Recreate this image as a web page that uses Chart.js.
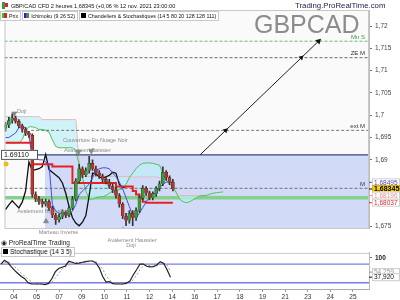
<!DOCTYPE html>
<html>
<head>
<meta charset="utf-8">
<script src="https://cdn.jsdelivr.net/npm/chart.js@4.4.1/dist/chart.umd.min.js"></script>
<style>
body{margin:0;width:400px;height:300px;overflow:hidden;background:#fff;position:relative;font-family:"Liberation Sans",Arial,sans-serif}
canvas{position:absolute;left:0}
#main{top:0}
#stoch{top:246px}
.t{position:absolute;white-space:nowrap;color:#111}
.box{display:inline-block;border:1px solid #c8c8c8;background:#fff;height:8px;line-height:8px;padding:0 2px 0 1px;margin-right:1px;vertical-align:top}
.ic{display:inline-block;width:5px;height:5px;margin-right:2px;vertical-align:0}
</style>
</head>
<body>
<canvas id="main" width="400" height="300"></canvas>
<canvas id="stoch" width="400" height="54"></canvas>

<div class="t" style="left:2px;top:2px;font-size:5.6px"><span style="display:inline-block;width:3px;height:7px;background:#3a9a3a;vertical-align:-1px"></span><span style="display:inline-block;width:3px;height:4px;background:#d23;margin-right:3px;vertical-align:1px"></span>GBP/CAD CFD 2 heures 1,68345 (+0,06 % 12 nov. 2021 23:00:00</div>
<div class="t" style="left:0;top:11px;font-size:5.3px">
  <span class="box"><span class="ic" style="background:linear-gradient(90deg,#2c2 50%,#d22 50%)"></span>Prix</span><span class="box"><span class="ic" style="background:linear-gradient(90deg,#22c 33%,#c2c 33%,#c2c 66%,#2a2 66%)"></span>Ichimoku (9 26 52)</span><span class="box"><span class="ic" style="background:#000"></span>Chandeliers &amp; Stochastiques (14 5 80 20 128 128 111)</span>
</div>
<div class="t" style="left:295px;top:1px;font-size:7.8px;color:#1c1c48">Trading.ProRealTime.com</div>
<div class="t" style="left:254px;top:10px;font-size:25px;color:#8c8c8c">GBPCAD</div>
<div class="t" style="left:1px;top:239px;font-size:6.5px;color:#222">&#9673; ProRealTime Trading</div>
<div class="t" style="left:1px;top:247px;font-size:6.5px"><span class="box"><span class="ic" style="background:#000"></span>Stochastique (14 3 5)</span></div>

<script>
// x axis: one unit = 1/10 of a label step, label k sits at k*10
const dayLabels = ['04','05','07','09','10','11','12','14','16','17','18','19','21','23','24','25'];
const xMin = -6.19, xMax = 157.1;
const barStart = -5.75, barStep = 1.5;

// 2h candles
const opens  = [1.6970,1.6978,1.6988,1.6994,1.6986,1.6976,1.6968,1.6960,1.6955,1.6822,1.6812,1.6806,1.6800,1.6806,1.6792,1.6776,1.6765,1.6772,1.6782,1.6776,1.6792,1.6812,1.6852,1.6880,1.6866,1.6876,1.6892,1.6880,1.6870,1.6864,1.6856,1.6850,1.6840,1.6832,1.6820,1.6800,1.6774,1.6764,1.6780,1.6770,1.6786,1.6815,1.6836,1.6826,1.6815,1.6824,1.6836,1.6846,1.6872,1.6860,1.6850];
const highs  = [1.6984,1.6995,1.7003,1.6998,1.6990,1.6980,1.6972,1.6964,1.6958,1.6828,1.6818,1.6812,1.6812,1.6810,1.6796,1.6780,1.6778,1.6788,1.6786,1.6796,1.6818,1.6858,1.6890,1.6884,1.6882,1.6908,1.6900,1.6886,1.6876,1.6868,1.6862,1.6856,1.6846,1.6838,1.6824,1.6804,1.6780,1.6786,1.6786,1.6792,1.6820,1.6842,1.6840,1.6830,1.6828,1.6840,1.6852,1.6884,1.6876,1.6864,1.6856];
const lows   = [1.6964,1.6972,1.6982,1.6982,1.6972,1.6962,1.6954,1.6950,1.6816,1.6806,1.6800,1.6794,1.6796,1.6786,1.6770,1.6755,1.6760,1.6768,1.6770,1.6772,1.6788,1.6808,1.6848,1.6860,1.6862,1.6870,1.6876,1.6864,1.6858,1.6850,1.6846,1.6836,1.6826,1.6814,1.6794,1.6768,1.6752,1.6758,1.6752,1.6764,1.6782,1.6810,1.6820,1.6810,1.6810,1.6818,1.6830,1.6842,1.6854,1.6844,1.6830];
const closes = [1.6978,1.6988,1.6994,1.6986,1.6976,1.6968,1.6960,1.6955,1.6822,1.6812,1.6806,1.6800,1.6806,1.6792,1.6776,1.6765,1.6772,1.6782,1.6776,1.6792,1.6812,1.6852,1.6880,1.6866,1.6876,1.6892,1.6880,1.6870,1.6864,1.6856,1.6850,1.6840,1.6832,1.6820,1.6800,1.6774,1.6764,1.6780,1.6770,1.6786,1.6815,1.6836,1.6826,1.6815,1.6824,1.6836,1.6846,1.6872,1.6860,1.6850,1.68345];

// ichimoku
const tenkan = [1.6950,1.6950,1.6955,1.6960,1.6972,1.6975,1.6972,1.6955,1.6905,1.6905,1.6900,1.6900,1.6895,1.6890,1.6800,1.6785,1.6780,1.6778,1.6776,1.6776,1.6785,1.6800,1.6822,1.6830,1.6838,1.6845,1.6860,1.6875,1.6880,1.6882,1.6882,1.6880,1.6870,1.6862,1.6850,1.6835,1.6815,1.6795,1.6775,1.6770,1.6780,1.6793,1.6805,1.6816,1.6822,1.6827,1.6838,1.6845,1.6850,1.6850,1.68495];
const kijun  = [1.6938,1.6938,1.6938,1.6938,1.6938,1.6938,1.6938,1.6938,1.6890,1.6890,1.6890,1.6890,1.6890,1.6890,1.6885,1.6885,1.6885,1.6885,1.6885,1.6885,1.6848,1.6848,1.6848,1.6848,1.6848,1.6848,1.6848,1.6848,1.6848,1.6848,1.6848,1.6848,1.6848,1.6840,1.6840,1.6840,1.6840,1.6840,1.6830,1.6822,1.6814,1.6806,1.68037,1.68037,1.68037,1.68037,1.68037,1.68037,1.68037,1.68037,1.68037];
const senkouA = [1.6938,1.6938,1.6938,1.6938,1.6938,1.6945,1.6965,1.6974,1.6974,1.6972,1.6968,1.6968,1.6966,1.6962,1.6945,1.6930,1.6927,1.6927,1.6927,1.6927,1.6927,1.6920,1.6890,1.6860,1.6830,1.6812,1.6812,1.6815,1.6817,1.6817,1.6820,1.6825,1.6830,1.6833,1.6833,1.6835,1.6845,1.6860,1.6870,1.6880,1.6888,1.6892,1.6893,1.6893,1.6892,1.6890,1.6888,1.6870,1.6855,1.6845,1.6838,1.6826,1.6812,1.6806,1.6804,1.6806,1.6810,1.6815,1.6818,1.6820,1.6820,1.6823,1.6825,1.6826,1.6827,1.6828];
const senkouB = [1.6997,1.6997,1.6997,1.6997,1.6997,1.6997,1.6997,1.6997,1.6997,1.6997,1.6997,1.6990,1.6990,1.6990,1.6990,1.6990,1.6990,1.6990,1.6990,1.6990,1.6990,1.6990,1.6890,1.6862,1.6862,1.6862,1.6862,1.6862,1.6862,1.6862,1.6862,1.6862,1.6862,1.6862,1.6862,1.6862,1.6862,1.6862,1.6862,1.6862,1.6862,1.6862,1.6862,1.6862,1.6862,1.6862,1.6860,1.6860,1.6860,1.6852,1.6842,1.6828,1.68196,1.68196,1.68196,1.68196,1.68196,1.68196,1.68196,1.68196,1.68196,1.68196,1.68196,1.68196,1.68196,1.68196];
const chikou = [1.6788,1.6799,1.6808,1.6800,1.6792,1.6805,1.6830,1.6895,1.6876,1.6878,1.6880,1.6885,1.6912,1.6878,1.6872,1.6866,1.6860,1.6848,1.6825,1.6795,1.6770,1.6758,1.6752,1.6760,1.6775,1.6820,1.6870,1.6868,1.6862,1.6858,1.6862,1.6865,1.6872,1.6870,1.6845,1.6838,1.6840];

// stochastic %K / %D
const stochK = [80,92,85,72,60,50,40,33,20,16,16,16,16,14,18,33,55,66,70,74,89,86,82,83,86,88,90,90,84,68,40,22,24,17,16,16,16,19,25,45,62,80,80,73,71,72,78,88,82,62,37.92];
const stochD = [78,85,88,82,72,62,50,41,32,24,18,16,16,15,16,22,35,50,64,70,78,83,86,84,84,86,88,89,88,80,64,43,29,21,19,16,16,17,20,30,44,62,74,78,75,72,74,80,84,77,54.259];
const stochLevels = [80, 20];

// horizontal levels (price)
const levelMnS = 1.7166, levelZeM = 1.7129, levelExtM = 1.6966, levelM = 1.6836;
const zoneTop = 1.6911, zoneStart = 11.9, extStart = 5.75;
const greenLevel = 1.6815;
// projected trend line (time, price)
const trendX = [81.4, 92.9, 126.8, 134.5];
const trendY = [1.6911, 1.6966, 1.7129, 1.7166];
// candle pattern markers
const markX = [-1.8, 27.0, 32.7, 12.4, 16.8, 46.9, 49.8];
const markY = [1.7004, 1.6918, 1.6920, 1.6762, 1.6738, 1.6742, 1.6740];
const markUp = [false, false, false, true, true, true, true];
const patternText = ['Doji', 'Couverture En Nuage Noir', 'Avalement Baissier', 'Avalement Haussier', 'Marteau Inversé', 'Avalement Haussier', 'Doji'];
const patternX = [1.5, 34.5, 31.0, 10.5, 18.0, 51.0, 50.5];
const patternY = [1.7008, 1.6943, 1.6921, 1.6783, 1.6736, 1.6719, 1.6707];

const mainTicks = [1.675, 1.69, 1.695, 1.7, 1.705, 1.71, 1.715, 1.72];
const priceTags = [
  {value: 1.68495, color: '#4a4ad8', bg: '#fff'},
  {value: 1.68345, color: '#000', bg: '#f5cc1a'},
  {value: 1.68196, color: '#f08c8c', bg: '#fff'},
  {value: 1.68037, color: '#e02828', bg: '#fff'}
];
const levelNames = [
  {text: 'Mn S', value: levelMnS, color: '#3a9a3a'},
  {text: 'ZE M', value: levelZeM, color: '#333'},
  {text: 'ext M', value: levelExtM, color: '#333'},
  {text: 'M', value: levelM, color: '#333'}
];

const barX = j => barStart + j * barStep;
const series = arr => arr.map((v, j) => ({x: barX(j), y: v}));
const hline = (y, from) => [{x: from, y: y}, {x: xMax, y: y}];
const comma = (v, d) => v.toFixed(d).replace('.', ',');

function lineDs(data, color, width, order, extra) {
  return Object.assign({type: 'line', data: data, borderColor: color, borderWidth: width,
    pointRadius: 0, fill: false, tension: 0, order: order}, extra || {});
}

const mainDecor = {
  id: 'mainDecor',
  beforeDraw(chart) {
    const {ctx, chartArea: a} = chart;
    ctx.save();
    ctx.fillStyle = '#fafafa';
    ctx.fillRect(a.left, a.top, a.right - a.left, a.bottom - a.top);
    ctx.restore();
  },
  afterDraw(chart) {
    const {ctx, chartArea: a} = chart;
    const ys = chart.scales.y, xs = chart.scales.x;
    ctx.save();
    ctx.strokeStyle = '#c8c8c8';
    ctx.lineWidth = 1;
    ctx.strokeRect(a.left + 0.5, a.top + 0.5, a.right - a.left - 1, a.bottom - a.top);

    ctx.font = '6px "Liberation Sans", Arial';
    ctx.textAlign = 'right';
    ctx.textBaseline = 'bottom';
    levelNames.forEach(l => {
      ctx.fillStyle = l.color;
      ctx.fillText(l.text, a.right - 4, ys.getPixelForValue(l.value) - 1);
    });

    // price tags on right axis
    priceTags.forEach((p, i) => {
      const y = ys.getPixelForValue(p.value);
      ctx.fillStyle = p.bg;
      ctx.fillRect(a.right + 3, y - 4, 28, 8);
      ctx.strokeStyle = i === 1 ? '#d8b000' : '#d0d0d0';
      ctx.strokeRect(a.right + 3.5, y - 3.5, 27, 7);
      ctx.fillStyle = p.color;
      ctx.font = (i === 1 ? 'bold 7px' : '6.5px') + ' "Liberation Sans", Arial';
      ctx.textAlign = 'left';
      ctx.textBaseline = 'middle';
      ctx.fillText(comma(p.value, 5), a.right + 5, y + 0.5);
      ctx.strokeStyle = p.color;
      ctx.beginPath(); ctx.moveTo(a.right, y); ctx.lineTo(a.right + 3, y); ctx.stroke();
    });

    // level tag on the left
    const yz = ys.getPixelForValue(zoneTop);
    ctx.fillStyle = '#fff';
    ctx.fillRect(1, yz - 5, 37, 10);
    ctx.strokeStyle = '#555';
    ctx.strokeRect(1.5, yz - 4.5, 36, 9);
    ctx.fillStyle = '#111';
    ctx.font = '7px "Liberation Sans", Arial';
    ctx.textAlign = 'left';
    ctx.textBaseline = 'middle';
    ctx.fillText(zoneTop.toFixed(5), 4, yz + 0.5);
    ctx.fillStyle = '#e6c020';
    ctx.beginPath(); ctx.arc(6, yz + 9, 2.5, 0, Math.PI * 2); ctx.fill();

    // pattern names
    ctx.font = '5.5px "Liberation Sans", Arial';
    ctx.fillStyle = '#8a8a8a';
    ctx.textAlign = 'center';
    patternText.forEach((t, i) => {
      ctx.fillText(t, xs.getPixelForValue(patternX[i]), ys.getPixelForValue(patternY[i]));
    });
    ctx.restore();
  }
};

const candleColors = closes.map((c, j) => c >= opens[j] ? '#3c9c3c' : '#c42f2a');

new Chart(document.getElementById('main'), {
  type: 'line',
  data: {
    datasets: [
      lineDs(trendX.map((x, i) => ({x: x, y: trendY[i]})), '#222', 1, 1, {
        pointRadius: [0, 3, 3, 3.5], pointStyle: 'triangle', rotation: 46,
        pointBackgroundColor: '#111', pointBorderColor: '#111', pointBorderWidth: 0
      }),
      {type: 'scatter', data: markX.map((x, i) => ({x: x, y: markY[i]})), pointStyle: 'triangle',
        rotation: markUp.map(u => u ? 0 : 180), pointRadius: 3,
        backgroundColor: '#8a8a8a', borderColor: '#777', borderWidth: 0.5, order: 2},
      {type: 'bar', data: closes.map((c, j) => ({x: barX(j), y: [opens[j], c]})),
        backgroundColor: candleColors, borderColor: '#2a3a2a', borderWidth: 0.5,
        barThickness: 3, grouped: false, minBarLength: 1, order: 10},
      {type: 'bar', data: closes.map((c, j) => ({x: barX(j), y: [lows[j], highs[j]]})),
        backgroundColor: '#333', barThickness: 1, grouped: false, order: 11},
      lineDs(series(tenkan), '#4a4ae0', 1, 20),
      lineDs(series(kijun), '#e82020', 2, 21, {stepped: true}),
      lineDs(series(chikou), '#111', 1.3, 22),
      lineDs(hline(levelM, xMin), '#555', 0.8, 40, {borderDash: [3, 2]}),
      lineDs(hline(levelExtM, extStart), '#555', 0.8, 41, {borderDash: [3, 2]}),
      lineDs(hline(levelZeM, xMin), '#444', 0.8, 42, {borderDash: [3, 2]}),
      lineDs(hline(levelMnS, xMin), '#4aa84a', 0.8, 43, {borderDash: [3, 2]}),
      lineDs(hline(zoneTop, xMin), '#34467f', 1.2, 44),
      lineDs(series(senkouA), '#4cc45a', 1, 59, {fill: '+1', backgroundColor: 'rgba(190,238,248,0.7)'}),
      lineDs(series(senkouB), '#f2a4a4', 1, 60),
      lineDs(hline(greenLevel, xMin), '#86d08e', 3.5, 70),
      lineDs(hline(zoneTop, zoneStart), 'rgba(0,0,0,0)', 0, 100, {fill: 'start', backgroundColor: 'rgb(209,219,248)'})
    ]
  },
  options: {
    responsive: false,
    animation: false,
    layout: {padding: {top: 10, bottom: 72, left: 0, right: 0}},
    plugins: {legend: {display: false}, tooltip: {enabled: false}},
    scales: {
      x: {type: 'linear', min: xMin, max: xMax, display: false, offset: false},
      y: {
        position: 'right', min: 1.6747, max: 1.7236,
        afterBuildTicks: s => { s.ticks = mainTicks.map(v => ({value: v})); },
        afterFit: s => { s.width = 31; },
        ticks: {font: {size: 6.5, family: '"Liberation Sans", Arial'}, color: '#444', padding: 3,
          callback: v => comma(v, 3).replace(/0+$/, '').replace(/,$/, '')},
        grid: {drawOnChartArea: false, tickLength: 3, color: '#777'},
        border: {color: '#bbb'}
      }
    }
  },
  plugins: [mainDecor]
});

const stochDecor = {
  id: 'stochDecor',
  afterDraw(chart) {
    const {ctx, chartArea: a} = chart;
    const ys = chart.scales.y;
    ctx.save();
    ctx.strokeStyle = '#c8c8c8';
    ctx.beginPath(); ctx.moveTo(a.left, a.top + 0.5); ctx.lineTo(a.right, a.top + 0.5); ctx.stroke();
    const tags = [{v: stochD[stochD.length - 1], c: '#999'}, {v: stochK[stochK.length - 1], c: '#111'}];
    ctx.font = '6.5px "Liberation Sans", Arial';
    ctx.textBaseline = 'middle';
    tags.forEach(t => {
      const y = ys.getPixelForValue(t.v);
      ctx.fillStyle = '#fff';
      ctx.fillRect(a.right + 3, y - 4, 28, 8);
      ctx.strokeStyle = '#ccc';
      ctx.strokeRect(a.right + 3.5, y - 3.5, 27, 7);
      ctx.fillStyle = t.c;
      ctx.fillText(comma(t.v, 3), a.right + 5, y + 0.5);
      ctx.strokeStyle = t.c;
      ctx.beginPath(); ctx.moveTo(a.right, y); ctx.lineTo(a.right + 3, y); ctx.stroke();
    });
    ctx.restore();
  }
};

new Chart(document.getElementById('stoch'), {
  type: 'line',
  data: {
    datasets: [
      lineDs(series(stochK), '#222', 1.2, 1),
      lineDs(series(stochD), '#9a9a9a', 1, 2, {borderDash: [2, 2]}),
      lineDs(hline(stochLevels[0], xMin), '#7c7ce6', 1.4, 3),
      lineDs(hline(stochLevels[1], xMin), '#7c7ce6', 1.4, 4)
    ]
  },
  options: {
    responsive: false,
    animation: false,
    layout: {padding: {top: 2, bottom: 0, left: 0, right: 0}},
    plugins: {legend: {display: false}, tooltip: {enabled: false}},
    scales: {
      x: {
        type: 'linear', min: xMin, max: xMax, offset: false,
        afterBuildTicks: s => { s.ticks = dayLabels.map((d, k) => ({value: k * 10})); },
        afterFit: s => { s.height = 11; },
        ticks: {autoSkip: false, maxRotation: 0, padding: 1, color: '#333',
          font: {size: 6.5, family: '"Liberation Sans", Arial'},
          callback: v => dayLabels[Math.round(v / 10)]},
        grid: {drawOnChartArea: false, tickLength: 3, color: '#999'},
        border: {color: '#aaa'}
      },
      y: {
        position: 'right', min: 0, max: 116,
        afterBuildTicks: s => { s.ticks = [{value: 100}]; },
        afterFit: s => { s.width = 31; },
        ticks: {font: {size: 6.5, weight: 'bold', family: '"Liberation Sans", Arial'}, color: '#222', padding: 3},
        grid: {drawOnChartArea: false, tickLength: 3, color: '#777'},
        border: {color: '#bbb'}
      }
    }
  },
  plugins: [stochDecor]
});
</script>
</body>
</html>
